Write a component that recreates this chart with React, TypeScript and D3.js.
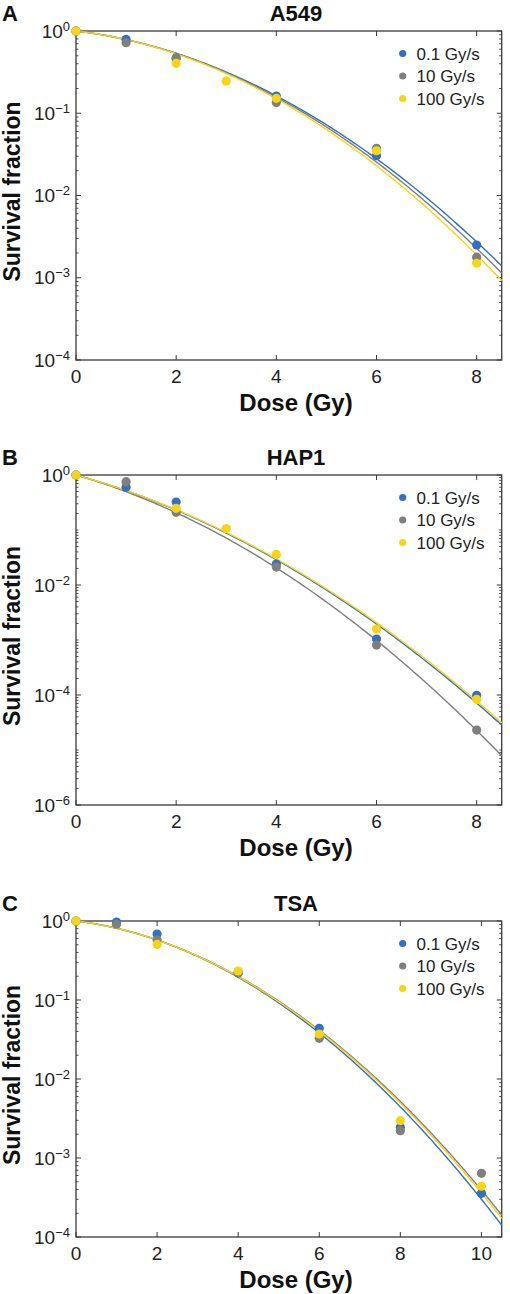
import React from "react";
import * as d3 from "d3";

// ---------- data ----------
const seriesNames = ["0.1 Gy/s", "10 Gy/s", "100 Gy/s"];
const seriesColors = ["#3370c2", "#7f7f7f", "#f8d416"];

// Panel A: A549
const a549DoseBlue = [0, 1, 2, 4, 6, 8];
const a549SurvBlue = [1, 0.79, 0.47, 0.162, 0.0305, 0.0025];
const a549DoseGray = [0, 1, 2, 4, 6, 8];
const a549SurvGray = [1, 0.72, 0.466, 0.135, 0.0375, 0.00178];
const a549DoseYellow = [0, 2, 3, 4, 6, 8];
const a549SurvYellow = [1, 0.405, 0.247, 0.152, 0.035, 0.0015];
// LQ fit parameters (alpha, beta)
const a549Alpha = [0.17, 0.166, 0.165];
const a549Beta = [0.071, 0.0743, 0.0773];

// Panel B: HAP1
const hap1DoseBlue = [0, 1, 2, 4, 6, 8];
const hap1SurvBlue = [1, 0.597, 0.323, 0.0241, 0.00104, 9.9e-5];
const hap1DoseGray = [0, 1, 2, 4, 6, 8];
const hap1SurvGray = [1, 0.756, 0.21, 0.0212, 8.1e-4, 2.3e-5];
const hap1DoseYellow = [0, 2, 3, 4, 6, 8];
const hap1SurvYellow = [1, 0.248, 0.106, 0.036, 0.00158, 8.3e-5];
const hap1Alpha = [0.579, 0.6066, 0.5726];
const hap1Beta = [0.0768, 0.0913, 0.0762];

// Panel C: TSA
const tsaDoseBlue = [0, 1, 2, 4, 6, 8, 10];
const tsaSurvBlue = [1, 0.97, 0.685, 0.22, 0.0438, 0.00245, 3.57e-4];
const tsaDoseGray = [0, 1, 2, 4, 6, 8, 10];
const tsaSurvGray = [1, 0.91, 0.575, 0.222, 0.0327, 0.00222, 6.4e-4];
const tsaDoseYellow = [0, 2, 4, 6, 8, 10];
const tsaSurvYellow = [1, 0.507, 0.233, 0.037, 0.00297, 4.4e-4];
const tsaAlpha = [0.143, 0.1495, 0.1473];
const tsaBeta = [0.0668, 0.0635, 0.0646];

const xTicksAB = [0, 2, 4, 6, 8];
const xTicksC = [0, 2, 4, 6, 8, 10];
const yExpA = [0, -1, -2, -3, -4];
const yExpB = [0, -2, -4, -6];
const yExpC = [0, -1, -2, -3, -4];

// ---------- layout ----------
const W = 510;
const H = 1294;
const L = 76;
const R = 501.7;
const FONT = "'Liberation Sans', Arial, Helvetica, sans-serif";
const AXIS = "#3a3a3a";

type Series = { dose: number[]; surv: number[]; alpha: number; beta: number };
type PanelCfg = {
  letter: string;
  title: string;
  top: number;
  bottom: number;
  xMax: number;
  xTicks: number[];
  yMinExp: number;
  yExp: number[];
  series: Series[];
};

const panels: PanelCfg[] = [
  {
    letter: "A", title: "A549", top: 31, bottom: 360, xMax: 8.5, xTicks: xTicksAB, yMinExp: -4, yExp: yExpA,
    series: [
      { dose: a549DoseBlue, surv: a549SurvBlue, alpha: a549Alpha[0], beta: a549Beta[0] },
      { dose: a549DoseGray, surv: a549SurvGray, alpha: a549Alpha[1], beta: a549Beta[1] },
      { dose: a549DoseYellow, surv: a549SurvYellow, alpha: a549Alpha[2], beta: a549Beta[2] },
    ],
  },
  {
    letter: "B", title: "HAP1", top: 475, bottom: 805, xMax: 8.5, xTicks: xTicksAB, yMinExp: -6, yExp: yExpB,
    series: [
      { dose: hap1DoseBlue, surv: hap1SurvBlue, alpha: hap1Alpha[0], beta: hap1Beta[0] },
      { dose: hap1DoseGray, surv: hap1SurvGray, alpha: hap1Alpha[1], beta: hap1Beta[1] },
      { dose: hap1DoseYellow, surv: hap1SurvYellow, alpha: hap1Alpha[2], beta: hap1Beta[2] },
    ],
  },
  {
    letter: "C", title: "TSA", top: 921, bottom: 1237, xMax: 10.5, xTicks: xTicksC, yMinExp: -4, yExp: yExpC,
    series: [
      { dose: tsaDoseBlue, surv: tsaSurvBlue, alpha: tsaAlpha[0], beta: tsaBeta[0] },
      { dose: tsaDoseGray, surv: tsaSurvGray, alpha: tsaAlpha[1], beta: tsaBeta[1] },
      { dose: tsaDoseYellow, surv: tsaSurvYellow, alpha: tsaAlpha[2], beta: tsaBeta[2] },
    ],
  },
];

function Panel({ cfg }: { cfg: PanelCfg }) {
  const x = d3.scaleLinear().domain([0, cfg.xMax]).range([L, R]);
  const y = d3.scaleLog().domain([Math.pow(10, cfg.yMinExp), 1]).range([cfg.bottom, cfg.top]);

  const doses = d3.range(0, cfg.xMax + 1e-9, 0.05);
  if (doses[doses.length - 1] < cfg.xMax) doses.push(cfg.xMax);

  const minor: number[] = [];
  for (let e = cfg.yMinExp; e < 0; e++) {
    for (let m = 1; m <= 9; m++) {
      const v = m * Math.pow(10, e);
      if (m === 1 && (e === cfg.yMinExp || cfg.yExp.includes(e))) continue;
      minor.push(v);
    }
  }
  const cx = 296;
  const midY = (cfg.top + cfg.bottom) / 2;

  return (
    <g>
      <text x={2} y={cfg.top - 10.5} fontSize={22} fontWeight="bold" fontFamily={FONT} fill="#111">
        {cfg.letter}
      </text>
      <text x={cx} y={cfg.top - 10.5} fontSize={22} fontWeight="bold" fontFamily={FONT} textAnchor="middle" fill="#111">
        {cfg.title}
      </text>
      {/* frame */}
      <rect x={L} y={cfg.top} width={R - L} height={cfg.bottom - cfg.top} fill="none" stroke={AXIS} strokeWidth={1.3} />
      {/* x ticks */}
      {cfg.xTicks.map((t) => (
        <g key={"xt" + t}>
          <line x1={x(t)} x2={x(t)} y1={cfg.bottom} y2={cfg.bottom - 5} stroke={AXIS} strokeWidth={1} />
          <line x1={x(t)} x2={x(t)} y1={cfg.top} y2={cfg.top + 5} stroke={AXIS} strokeWidth={1} />
          <text x={x(t)} y={cfg.bottom + 23} fontSize={19} fontFamily={FONT} textAnchor="middle" fill="#222">
            {t}
          </text>
        </g>
      ))}
      {/* y major ticks */}
      {cfg.yExp.map((e) => {
        const yy = y(Math.pow(10, e));
        return (
          <g key={"yt" + e}>
            <line x1={L} x2={L + 5} y1={yy} y2={yy} stroke={AXIS} strokeWidth={1} />
            <line x1={R} x2={R - 5} y1={yy} y2={yy} stroke={AXIS} strokeWidth={1} />
            <text x={70} y={yy + 6.5} fontSize={19} fontFamily={FONT} textAnchor="end" fill="#222">
              <tspan>10</tspan>
              <tspan dy={-7} fontSize={13}>{e === 0 ? "0" : "\u2212" + Math.abs(e)}</tspan>
            </text>
          </g>
        );
      })}
      {/* y minor ticks */}
      {minor.map((v, i) => (
        <g key={"ym" + i}>
          <line x1={L} x2={L + 2.5} y1={y(v)} y2={y(v)} stroke={AXIS} strokeWidth={0.9} />
          <line x1={R} x2={R - 2.5} y1={y(v)} y2={y(v)} stroke={AXIS} strokeWidth={0.9} />
        </g>
      ))}
      {/* axis labels */}
      <text
        transform={`translate(20,${midY - 4}) rotate(-90)`}
        fontSize={23}
        fontWeight="bold"
        fontFamily={FONT}
        textAnchor="middle"
        fill="#111"
      >
        Survival fraction
      </text>
      <text x={cx} y={cfg.bottom + 51} fontSize={24} fontWeight="bold" fontFamily={FONT} textAnchor="middle" fill="#111">
        Dose (Gy)
      </text>
      {/* fitted curves */}
      {cfg.series.map((s, i) => {
        const path = d3
          .line<number>()
          .x((d) => x(d))
          .y((d) => y(Math.exp(-s.alpha * d - s.beta * d * d)))(doses);
        return <path key={"c" + i} d={path || ""} fill="none" stroke={seriesColors[i]} strokeWidth={1.4} />;
      })}
      {/* points */}
      {cfg.series.map((s, i) => (
        <g key={"p" + i}>
          {s.dose.map((d, j) => (
            <circle key={j} cx={x(d)} cy={y(s.surv[j])} r={4.6} fill={seriesColors[i]} />
          ))}
        </g>
      ))}
      {/* legend */}
      {seriesNames.map((n, i) => {
        const ly = cfg.top + 22.5 + i * 22.5;
        return (
          <g key={"lg" + i}>
            <circle cx={402.7} cy={ly} r={3.6} fill={seriesColors[i]} />
            <text x={416.5} y={ly + 6} fontSize={17} fontFamily={FONT} fill="#222">
              {n}
            </text>
          </g>
        );
      })}
    </g>
  );
}

export default function App() {
  return (
    <svg
      width={W}
      height={H}
      viewBox={`0 0 ${W} ${H}`}
      style={{ position: "absolute", left: 0, top: 0, background: "#fff" }}
    >
      <rect x={0} y={0} width={W} height={H} fill="#fff" />
      {panels.map((p) => (
        <Panel key={p.letter} cfg={p} />
      ))}
    </svg>
  );
}
